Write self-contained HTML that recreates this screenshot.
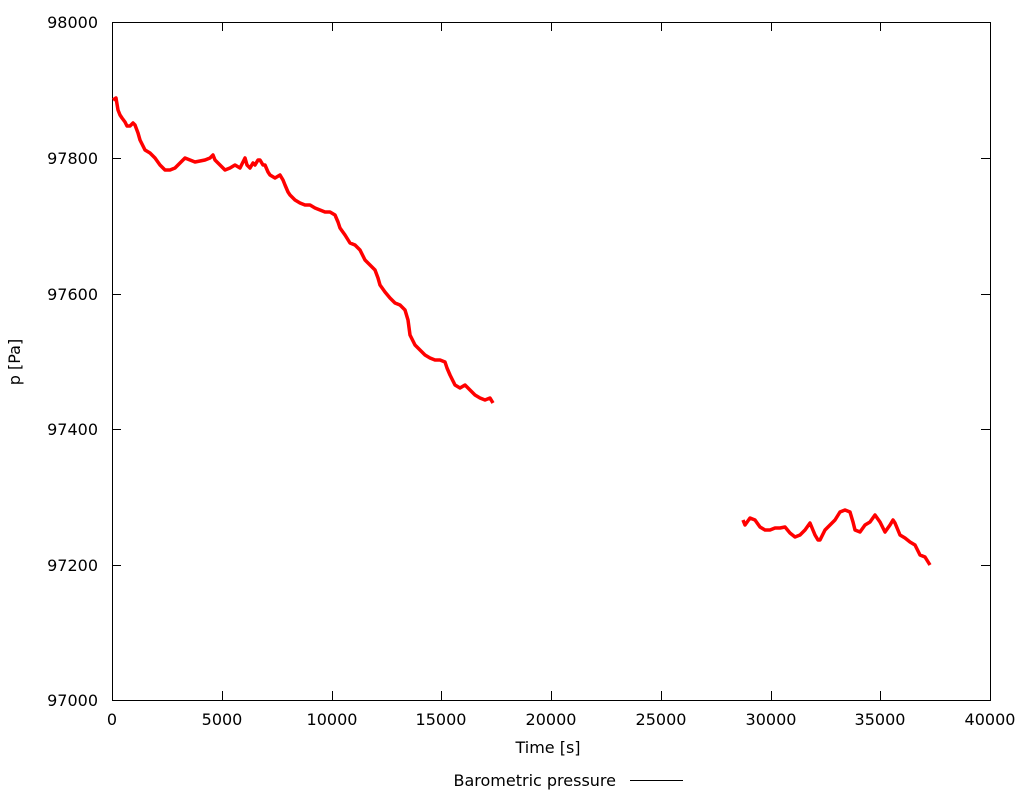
<!DOCTYPE html>
<html><head><style>
body{margin:0;background:#fff;}
svg text{font-family:"DejaVu Sans",sans-serif;font-size:16px;fill:#000;}
</style></head><body>
<svg width="1024" height="800" xmlns="http://www.w3.org/2000/svg">
<rect x="112.5" y="22.5" width="878" height="678" fill="none" stroke="#000" stroke-width="1"/>
<g stroke="#000" stroke-width="1">
<line x1="112" y1="158.5" x2="121" y2="158.5"/><line x1="981" y1="158.5" x2="990" y2="158.5"/>
<line x1="112" y1="294.5" x2="121" y2="294.5"/><line x1="981" y1="294.5" x2="990" y2="294.5"/>
<line x1="112" y1="429.5" x2="121" y2="429.5"/><line x1="981" y1="429.5" x2="990" y2="429.5"/>
<line x1="112" y1="565.5" x2="121" y2="565.5"/><line x1="981" y1="565.5" x2="990" y2="565.5"/>
<line x1="222.5" y1="700" x2="222.5" y2="691"/><line x1="222.5" y1="22" x2="222.5" y2="31"/>
<line x1="332.5" y1="700" x2="332.5" y2="691"/><line x1="332.5" y1="22" x2="332.5" y2="31"/>
<line x1="441.5" y1="700" x2="441.5" y2="691"/><line x1="441.5" y1="22" x2="441.5" y2="31"/>
<line x1="551.5" y1="700" x2="551.5" y2="691"/><line x1="551.5" y1="22" x2="551.5" y2="31"/>
<line x1="661.5" y1="700" x2="661.5" y2="691"/><line x1="661.5" y1="22" x2="661.5" y2="31"/>
<line x1="771.5" y1="700" x2="771.5" y2="691"/><line x1="771.5" y1="22" x2="771.5" y2="31"/>
<line x1="880.5" y1="700" x2="880.5" y2="691"/><line x1="880.5" y1="22" x2="880.5" y2="31"/>
</g>
<g text-anchor="end">
<text x="98" y="28">98000</text><text x="98" y="164">97800</text><text x="98" y="300">97600</text>
<text x="98" y="435">97400</text><text x="98" y="571">97200</text><text x="98" y="706">97000</text>
</g>
<g text-anchor="middle">
<text x="112" y="725">0</text><text x="222" y="725">5000</text><text x="332" y="725">10000</text>
<text x="441" y="725">15000</text><text x="551" y="725">20000</text><text x="661" y="725">25000</text>
<text x="771" y="725">30000</text><text x="880" y="725">35000</text><text x="990" y="725">40000</text>
<text x="548" y="753">Time [s]</text>
</g>
<text transform="translate(20,362) rotate(-90)" text-anchor="middle">p [Pa]</text>
<text x="616" y="786" text-anchor="end">Barometric pressure</text>
<line x1="630" y1="780.5" x2="683" y2="780.5" stroke="#000"/>
<g fill="none" stroke="#f00" stroke-width="3.5" stroke-linejoin="round">
<polyline points="113,100 116,98 118,110 120,115 122,118 125,122 127,126 130,126 133,123 135,125 138,133 140,140 143,146 145,150 150,153 155,158 160,165 165,170 170,170 175,168 180,163 185,158 190,160 195,162 200,161 205,160 210,158 213,155 215,160 220,165 225,170 230,168 235,165 240,168 245,158 247,165 250,168 253,163 255,165 258,160 260,160 263,165 265,165 268,172 270,175 275,178 280,175 283,180 285,185 288,192 290,195 295,200 300,203 305,205 310,205 315,208 320,210 325,212 330,212 335,215 338,222 340,228 345,235 350,243 355,245 360,250 363,256 365,260 370,265 375,270 378,278 380,285 385,292 390,298 395,303 400,305 405,310 408,320 410,335 415,345 420,350 425,355 430,358 435,360 440,360 445,362 447,368 450,375 455,385 460,388 465,385 470,390 475,395 480,398 485,400 490,398 493,403"/>
<polyline points="743,520 745,525 750,518 755,520 760,527 765,530 770,530 775,528 780,528 785,527 790,533 795,537 800,535 805,530 810,523 815,535 818,540 820,540 825,530 830,525 835,520 840,512 845,510 850,512 853,522 855,530 860,532 865,525 870,522 875,515 880,522 885,532 890,525 893,520 895,523 900,535 905,538 910,542 915,545 920,555 925,557 930,565"/>
</g>
</svg>
</body></html>
